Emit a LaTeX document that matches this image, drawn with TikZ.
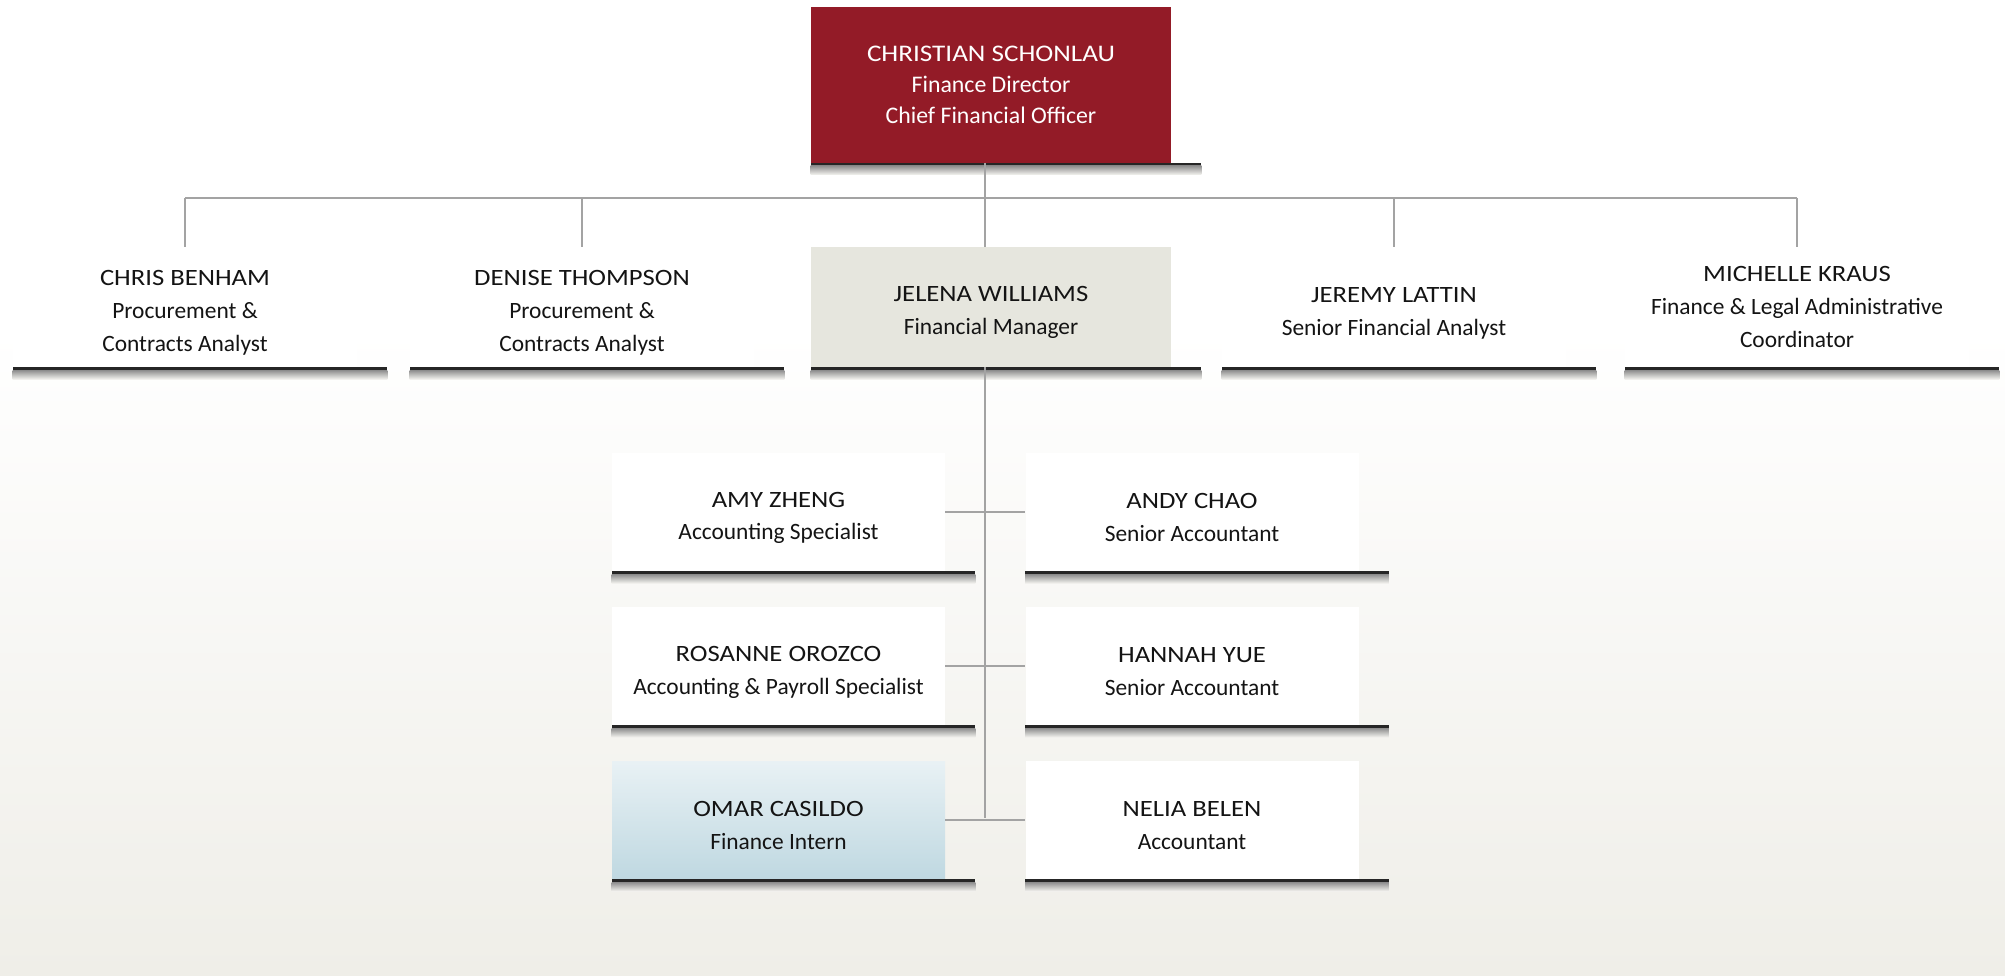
\documentclass[tikz,border=0pt]{standalone}
\usepackage{fontspec}
\setmainfont{Carlito}
\newfontfamily\namefont{Carlito}[FakeStretch=1.14]
\newcommand\pname[1]{{\rule{0pt}{13.5pt}\namefont #1}}
\newcommand\pnameplain[1]{{\namefont #1}}
\definecolor{dirred}{HTML}{931B27}
\definecolor{mgrbeige}{HTML}{E6E6DE}
\definecolor{linegray}{HTML}{A3A3A3}
\definecolor{bglow}{HTML}{EFEEE8}
\definecolor{internblue}{HTML}{BFD8E1}
\newcommand\dropshadow[1]{%
  \fill[black!85] (#1.south west) rectangle ([xshift=15pt,yshift=-1.3pt]#1.south east);
  \shade[top color=black!45, bottom color=bglow!60] ([yshift=-1.3pt]#1.south west) rectangle ([xshift=15pt,yshift=-6pt]#1.south east);}
\begin{document}
\begin{tikzpicture}[x=0.5pt,y=-0.5pt,
  card/.style={rectangle, inner sep=0pt, align=center,
    font=\fontsize{11.7}{16.5}\selectfont, text=black!92},
  toprow/.style={card, minimum width=172pt, minimum height=60pt, fill=white},
  midcard/.style={card, minimum width=166.5pt, minimum height=59pt, fill=white},
  conn/.style={draw=linegray, line width=0.7pt}
]
\useasboundingbox (0,0) rectangle (2005,975);
\fill[white] (0,0) rectangle (2005,975);
\shade[top color=white, bottom color=bglow] (0,330) rectangle (2005,975);

% director
\node[card, fill=dirred, text=white, minimum width=180pt, minimum height=78pt,
  font=\fontsize{11.9}{15.5}\selectfont] (cs) at (991,84.5)
  {\pnameplain{CHRISTIAN SCHONLAU}\\Finance Director\\Chief Financial Officer};

% second row
\node[toprow] (cb) at (185,307) {\pname{CHRIS BENHAM}\\Procurement \&\\Contracts Analyst};
\node[toprow] (dt) at (582,307) {\pname{DENISE THOMPSON}\\Procurement \&\\Contracts Analyst};
\node[card, fill=mgrbeige, minimum width=180pt, minimum height=60pt] (jw) at (991,307)
  {\pname{JELENA WILLIAMS}\\Financial Manager};
\node[toprow] (jl) at (1394,307) {\pname{JEREMY LATTIN}\\Senior Financial Analyst};
\node[toprow] (mk) at (1797,307) {\pnameplain{MICHELLE KRAUS}\\Finance \& Legal Administrative\\Coordinator};

% team
\node[midcard] (az) at (778.5,512) {\pname{AMY ZHENG}\\Accounting Specialist};
\node[midcard] (ac) at (1192,512) {\pname{ANDY CHAO}\\Senior Accountant};
\node[midcard] (ro) at (778.5,666) {\pname{ROSANNE OROZCO}\\Accounting \& Payroll Specialist};
\node[midcard] (hy) at (1192,666) {\pname{HANNAH YUE}\\Senior Accountant};
\node[midcard, top color=internblue!35, bottom color=internblue] (oc) at (778.5,820)
  {\pname{OMAR CASILDO}\\Finance Intern};
\node[midcard] (nb) at (1192,820) {\pname{NELIA BELEN}\\Accountant};

% shadows
\dropshadow{cs}
\dropshadow{cb}
\dropshadow{dt}
\dropshadow{jw}
\dropshadow{jl}
\dropshadow{mk}
\dropshadow{az}
\dropshadow{ac}
\dropshadow{ro}
\dropshadow{hy}
\dropshadow{oc}
\dropshadow{nb}

% connectors
\coordinate (bus) at (985,198);
\coordinate (busL) at (185,198);
\coordinate (busR) at (1797,198);
\coordinate (spineEnd) at (985,818);
\draw[conn] (cs.south -| bus) -- (bus);
\draw[conn] (busL) -- (busR);
\draw[conn] (busL) -- (cb.north);
\draw[conn] (dt.north |- bus) -- (dt.north);
\draw[conn] (bus) -- (jw.north -| bus);
\draw[conn] (jl.north |- bus) -- (jl.north);
\draw[conn] (busR) -- (mk.north);
\draw[conn] (jw.south -| bus) -- (spineEnd);
\draw[conn] (az.east) -- (ac.west);
\draw[conn] (ro.east) -- (hy.west);
\draw[conn] (oc.east) -- (nb.west);
\end{tikzpicture}
\end{document}
